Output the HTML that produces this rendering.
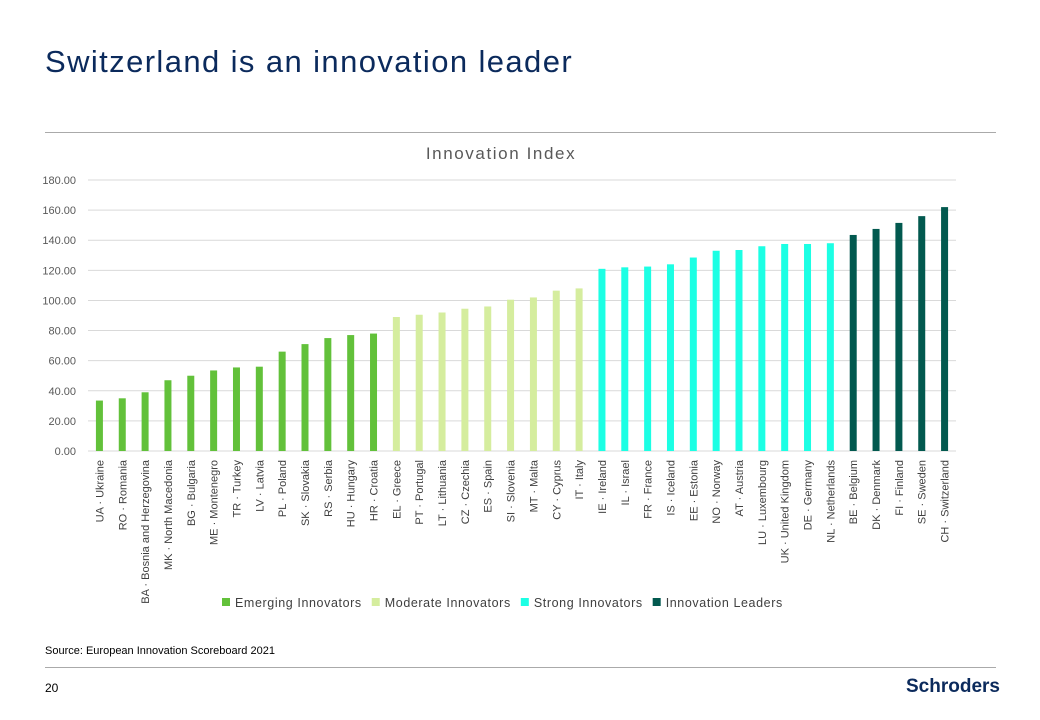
<!DOCTYPE html>
<html><head><meta charset="utf-8"><style>
body{margin:0;background:#fff;font-family:"Liberation Sans",sans-serif;}
#wrap{position:relative;width:1040px;height:720px;overflow:hidden;}
</style></head><body>
<div id="wrap">
<div style="position:absolute;left:45px;top:44px;font-size:31px;letter-spacing:1.4px;color:#0b2a5c;">Switzerland is an innovation leader</div>
<div style="position:absolute;left:45px;top:132px;width:951px;height:1px;background:#aaa;"></div>
<svg id="chart" width="1040" height="640" style="position:absolute;left:0;top:0;"></svg>
<div style="position:absolute;left:45px;top:645px;font-size:11px;color:#000;">Source: European Innovation Scoreboard 2021</div>
<div style="position:absolute;left:45px;top:667px;width:951px;height:1px;background:#aaa;"></div>
<div style="position:absolute;left:45px;top:681px;font-size:12px;color:#000;">20</div>
<div style="position:absolute;left:906px;top:676px;font-size:19px;font-weight:bold;color:#0b2a5c;">Schroders</div>
</div>
<script>
const categories=["UA · Ukraine","RO · Romania","BA · Bosnia and Herzegovina","MK · North Macedonia","BG · Bulgaria","ME · Montenegro","TR · Turkey","LV · Latvia","PL · Poland","SK · Slovakia","RS · Serbia","HU · Hungary","HR · Croatia","EL · Greece","PT · Portugal","LT · Lithuania","CZ · Czechia","ES · Spain","SI · Slovenia","MT · Malta","CY · Cyprus","IT · Italy","IE · Ireland","IL · Israel","FR · France","IS · Iceland","EE · Estonia","NO · Norway","AT · Austria","LU · Luxembourg","UK · United Kingdom","DE · Germany","NL · Netherlands","BE · Belgium","DK · Denmark","FI · Finland","SE · Sweden","CH · Switzerland"];
const values=[33.5,35,39,47,50,53.5,55.5,56,66,71,75,77,78,89,90.5,92,94.5,96,100.5,102,106.5,108,121,122,122.5,124,128.5,133,133.5,136,137.5,137.5,138,143.5,147.5,151.5,156,162];
const groups=[0,0,0,0,0,0,0,0,0,0,0,0,0,1,1,1,1,1,1,1,1,1,2,2,2,2,2,2,2,2,2,2,2,3,3,3,3,3];
const groupNames=["Emerging Innovators","Moderate Innovators","Strong Innovators","Innovation Leaders"];
const groupColors=["#62c13a","#d5ed9e","#1cffe4","#02594f"];
const yTicks=[0,20,40,60,80,100,120,140,160,180];
const NS="http://www.w3.org/2000/svg";
const svg=document.getElementById('chart');
const X0=88,X1=956,Y0=451,Y1=180,YMAX=180;
const step=(X1-X0)/categories.length;
function y(v){return Y0-(v/YMAX)*(Y0-Y1);}
function xc(i){return X0+step*(i+0.5);}
function mk(t,a){const e=document.createElementNS(NS,t);for(const k in a)e.setAttribute(k,a[k]);svg.appendChild(e);return e;}
const tt=mk('text',{x:501,y:159,'text-anchor':'middle','font-size':17,'letter-spacing':1.6,fill:'#595959','font-family':'Liberation Sans, sans-serif'});
tt.textContent='Innovation Index';


yTicks.forEach(t=>{
 const l=mk('line',{x1:X0,x2:X1,y1:y(t),y2:y(t),stroke:'#d9d9d9','stroke-width':1});
 
 
 const tx=mk('text',{x:76,y:y(t)+4,'text-anchor':'end','font-size':11,fill:'#595959','font-family':'Liberation Sans, sans-serif'});
 tx.textContent=t.toFixed(2);
 
 
});
values.forEach((v,i)=>{
 const r=mk('rect',{x:xc(i)-3.5,y:y(v),width:7,height:Y0-y(v),fill:groupColors[groups[i]]});
 
 
 const tx=mk('text',{transform:'translate('+(xc(i)+4)+',460) rotate(-90)','text-anchor':'end','font-size':11,fill:'#404040','font-family':'Liberation Sans, sans-serif'});
 tx.textContent=categories[i];
 
 
});
let lx=222;
groupNames.forEach((g,i)=>{
 const r=mk('rect',{x:lx,y:598,width:8,height:8,fill:groupColors[i]});
 
 
 const tx=mk('text',{x:lx+13,y:607,'font-size':12.5,'letter-spacing':0.6,fill:'#404040','font-family':'Liberation Sans, sans-serif'});
 tx.textContent=g;
 
 
 lx+=13+tx.getComputedTextLength()+10;
});
</script>
</body></html>
